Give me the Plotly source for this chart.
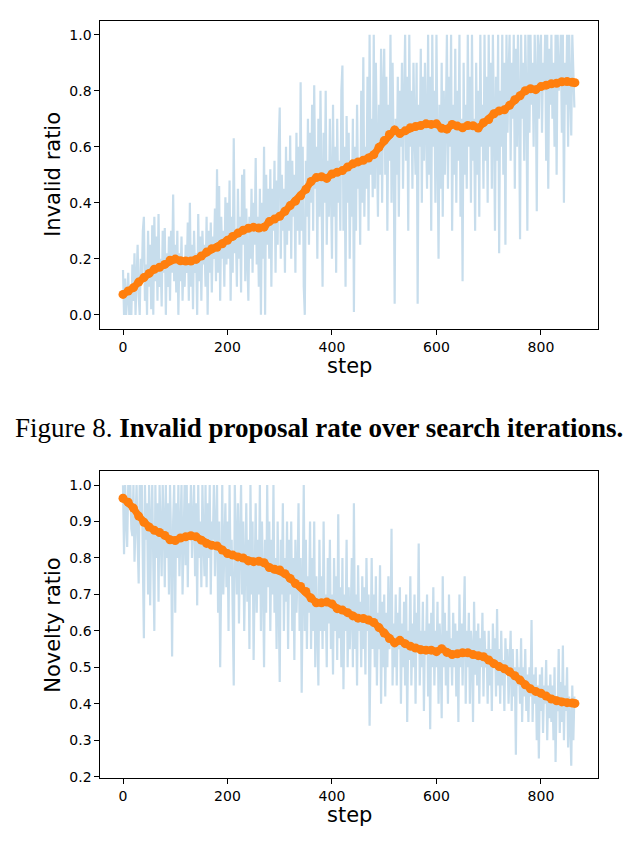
import plotly.graph_objects as go

# ---------------- data ----------------
# raw per-step values (sampled every 2 steps, 0..864)
invalid_raw = [
    0.16, 0.0, 0.13, 0.0, 0.06, 0.15, 0.0, 0.1, 0.0, 0.18,
    0.05, 0.22, 0.0, 0.14, 0.25, 0.07, 0.0, 0.2, 0.12, 0.3,
    0.35, 0.05, 0.18, 0.0, 0.3, 0.1, 0.25, 0.02, 0.32, 0.0,
    0.35, 0.12, 0.28, 0.05, 0.36, 0.1, 0.2, 0.03, 0.3, 0.15,
    0.31, 0.0, 0.22, 0.1, 0.28, 0.05, 0.3, 0.15, 0.43, 0.12,
    0.25, 0.08, 0.3, 0.0, 0.22, 0.12, 0.28, 0.05, 0.2, 0.1,
    0.25, 0.15, 0.33, 0.05, 0.4, 0.1, 0.25, 0.02, 0.3, 0.15,
    0.22, 0.0, 0.36, 0.12, 0.28, 0.05, 0.3, 0.18, 0.25, 0.1,
    0.35, 0.0, 0.3, 0.15, 0.33, 0.08, 0.28, 0.2, 0.38, 0.12,
    0.52, 0.15, 0.46, 0.05, 0.35, 0.2, 0.3, 0.1, 0.42, 0.18,
    0.4, 0.2, 0.48, 0.05, 0.35, 0.15, 0.63, 0.22, 0.3, 0.1,
    0.45, 0.2, 0.35, 0.08, 0.5, 0.25, 0.52, 0.12, 0.38, 0.2,
    0.05, 0.35, 0.2, 0.45, 0.15, 0.4, 0.25, 0.56, 0.18, 0.35,
    0.1, 0.45, 0.0, 0.4, 0.2, 0.6, 0.0, 0.5, 0.25, 0.45,
    0.2, 0.52, 0.1, 0.45, 0.3, 0.55, 0.15, 0.48, 0.25, 0.6,
    0.74, 0.2, 0.5, 0.3, 0.45, 0.15, 0.6, 0.25, 0.55, 0.3,
    0.64, 0.2, 0.55, 0.35, 0.5, 0.15, 0.65, 0.3, 0.6, 0.25,
    0.83, 0.3, 0.6, 0.1, 0.0, 0.55, 0.35, 0.7, 0.25, 0.65,
    0.4, 0.75, 0.3, 0.82, 0.45, 0.6, 0.2, 0.7, 0.35, 0.8,
    0.3, 0.1, 0.65, 0.4, 0.8, 0.25, 0.55, 0.35, 0.7, 0.45,
    0.2, 0.75, 0.35, 0.6, 0.15, 0.7, 0.4, 0.55, 0.3, 0.8,
    0.89, 0.3, 0.6, 0.1, 0.71, 0.4, 0.65, 0.2, 0.55, 0.35,
    0.7, 0.01, 0.6, 0.3, 0.75, 0.45, 0.55, 0.25, 0.8, 0.4,
    0.92, 0.35, 0.6, 0.45, 0.85, 0.3, 1.0, 0.5, 0.7, 0.42,
    1.0, 0.45, 0.9, 0.6, 0.35, 0.75, 0.5, 0.95, 0.4, 0.8,
    0.95, 0.5, 0.85, 0.3, 0.75, 0.55, 1.0, 0.4, 0.9, 0.6,
    0.04, 0.7, 0.5, 0.85, 0.35, 0.8, 0.6, 0.9, 0.45, 0.75,
    1.0, 0.55, 0.85, 0.3, 1.0, 0.6, 0.8, 0.45, 0.9, 0.65,
    0.5, 0.9, 0.04, 0.75, 0.6, 0.95, 0.4, 0.85, 0.55, 0.9,
    0.7, 0.45, 1.0, 0.5, 0.85, 0.3, 1.0, 0.6, 0.8, 0.4,
    1.0, 0.55, 0.2, 0.75, 0.45, 0.9, 0.35, 0.8, 0.5, 0.7,
    1.0, 0.45, 0.85, 0.6, 1.0, 0.3, 0.75, 0.5, 0.95, 0.4,
    0.8, 0.55, 1.0, 0.35, 0.7, 0.12, 0.9, 0.5, 0.75, 0.45,
    1.0, 0.6, 0.85, 0.4, 1.0, 0.55, 0.7, 0.3, 0.9, 0.5,
    0.8, 0.35, 1.0, 0.6, 0.75, 0.45, 1.0, 0.55, 0.85, 0.4,
    1.0, 0.6, 0.9, 0.45, 1.0, 0.7, 0.3, 0.85, 0.55, 1.0,
    0.22, 0.8, 0.6, 1.0, 0.5, 0.9, 0.25, 1.0, 0.65, 0.85,
    1.0, 0.55, 0.9, 0.7, 1.0, 0.45, 0.95, 0.6, 1.0, 0.75,
    0.27, 1.0, 0.7, 0.9, 0.55, 1.0, 0.8, 0.3, 1.0, 0.65,
    1.0, 0.75, 0.9, 0.6, 1.0, 0.85, 0.37, 1.0, 0.7, 0.95,
    1.0, 0.65, 0.9, 0.8, 1.0, 0.55, 1.0, 0.45, 0.95, 0.75,
    1.0, 0.7, 0.9, 0.6, 1.0, 0.5, 1.0, 0.8, 0.85, 1.0,
    0.65, 1.0, 0.4, 0.9, 0.75, 1.0, 0.6, 1.0, 0.8, 0.64,
    1.0, 0.9, 0.74,
]

novelty_raw = [
    1.0, 0.81, 1.0, 0.9, 0.83, 1.0, 0.95, 1.0, 0.88, 0.86,
    1.0, 0.79, 0.95, 1.0, 0.85, 0.73, 1.0, 0.9, 1.0, 0.82,
    0.58, 1.0, 0.85, 0.95, 0.7, 1.0, 0.67, 0.9, 1.0, 0.78,
    0.6, 1.0, 0.8, 0.95, 0.68, 1.0, 0.85, 0.75, 1.0, 0.9,
    0.72, 1.0, 0.8, 0.95, 0.7, 1.0, 0.85, 0.53, 0.9, 1.0,
    0.65, 0.95, 0.8, 1.0, 0.75, 0.9, 1.0, 0.7, 0.85, 1.0,
    0.78, 1.0, 0.72, 0.95, 0.85, 1.0, 0.8, 0.9, 1.0, 0.75,
    0.95, 0.67, 1.0, 0.8, 0.9, 0.72, 1.0, 0.85, 0.75, 1.0,
    0.72, 0.95, 0.8, 1.0, 0.7, 0.9, 0.85, 1.0, 0.75, 0.88,
    1.0, 0.65, 0.9, 0.5, 0.85, 1.0, 0.7, 0.8, 0.95, 0.72,
    0.9, 0.6, 1.0, 0.75, 0.85, 0.65, 0.45, 1.0, 0.8, 0.7,
    0.95, 0.62, 0.85, 1.0, 0.7, 0.9, 0.6, 0.8, 0.95, 0.68,
    0.85, 0.55, 1.0, 0.7, 0.9, 0.52, 0.8, 0.95, 0.65, 0.85,
    0.7, 1.0, 0.6, 0.9, 0.75, 0.5, 0.85, 0.65, 1.0, 0.72,
    0.9, 0.6, 0.85, 0.7, 1.0, 0.65, 0.8, 0.55, 0.9, 0.7,
    0.46, 0.85, 0.7, 0.95, 0.6, 0.8, 0.68, 0.9, 0.55, 0.85,
    0.7, 0.9, 0.6, 0.8, 0.52, 0.85, 0.65, 0.75, 0.95, 0.6,
    0.8, 0.43, 0.7, 1.0, 0.6, 0.85, 0.55, 0.75, 0.65, 0.9,
    0.55, 0.8, 0.6, 0.9, 0.5, 0.75, 0.62, 0.45, 0.85, 0.6,
    0.75, 0.55, 0.9, 0.6, 0.7, 0.5, 0.8, 0.62, 0.85, 0.55,
    0.7, 0.48, 0.8, 0.6, 0.75, 0.52, 0.92, 0.58, 0.72, 0.5,
    0.8, 0.44, 0.7, 0.6, 0.85, 0.5, 0.72, 0.55, 0.65, 0.8,
    0.5, 0.95, 0.55, 0.7, 0.45, 0.78, 0.6, 0.68, 0.5, 0.75,
    0.55, 0.72, 0.48, 0.8, 0.6, 0.7, 0.34, 0.65, 0.8, 0.55,
    0.7, 0.5, 0.75, 0.45, 0.65, 0.55, 0.78, 0.4, 0.68, 0.5,
    0.7, 0.42, 0.65, 0.5, 0.75, 0.55, 0.6, 0.88, 0.45, 0.62,
    0.5, 0.7, 0.45, 0.65, 0.55, 0.72, 0.4, 0.62, 0.5, 0.68,
    0.45, 0.7, 0.35, 0.6, 0.52, 0.75, 0.45, 0.62, 0.5, 0.7,
    0.4, 0.65, 0.55, 0.84, 0.45, 0.6, 0.5, 0.68, 0.38, 0.6,
    0.55, 0.7, 0.42, 0.62, 0.33, 0.65, 0.5, 0.72, 0.45, 0.6,
    0.5, 0.68, 0.4, 0.62, 0.55, 0.36, 0.75, 0.5, 0.65, 0.45,
    0.6, 0.4, 0.7, 0.5, 0.58, 0.45, 0.65, 0.5, 0.62, 0.42,
    0.6, 0.35, 0.7, 0.5, 0.62, 0.45, 0.58, 0.75, 0.4, 0.6,
    0.5, 0.65, 0.4, 0.6, 0.55, 0.35, 0.68, 0.48, 0.6, 0.45,
    0.62, 0.4, 0.58, 0.5, 0.65, 0.42, 0.6, 0.5, 0.55, 0.4,
    0.6, 0.45, 0.55, 0.38, 0.62, 0.5, 0.58, 0.42, 0.66, 0.45,
    0.55, 0.4, 0.6, 0.45, 0.52, 0.38, 0.58, 0.48, 0.55, 0.4,
    0.5, 0.6, 0.38, 0.55, 0.42, 0.5, 0.26, 0.55, 0.45, 0.5,
    0.4, 0.58, 0.35, 0.5, 0.42, 0.55, 0.38, 0.48, 0.35, 0.5,
    0.42, 0.63, 0.35, 0.48, 0.4, 0.5, 0.3, 0.45, 0.25, 0.48,
    0.38, 0.5, 0.32, 0.45, 0.4, 0.52, 0.3, 0.45, 0.36, 0.48,
    0.35, 0.45, 0.3, 0.5, 0.24, 0.42, 0.38, 0.55, 0.32, 0.46,
    0.35, 0.56, 0.3, 0.45, 0.38, 0.5, 0.28, 0.42, 0.35, 0.23,
    0.45, 0.3, 0.42,
]
raw_steps = list(range(0, 866, 2))

# smoothed curves (read every 10 steps)
smooth_steps = list(range(0, 861, 10)) + [865]
invalid_smooth = [
    0.073, 0.085, 0.097, 0.117, 0.133, 0.148, 0.163, 0.170, 0.180, 0.195,
    0.199, 0.193, 0.192, 0.192, 0.198, 0.210, 0.224, 0.236, 0.241, 0.254,
    0.266, 0.280, 0.292, 0.302, 0.309, 0.313, 0.310, 0.313, 0.333, 0.342,
    0.352, 0.370, 0.390, 0.406, 0.425, 0.448, 0.476, 0.490, 0.493, 0.487,
    0.503, 0.509, 0.515, 0.528, 0.539, 0.546, 0.552, 0.560, 0.572, 0.598,
    0.622, 0.644, 0.660, 0.647, 0.657, 0.668, 0.672, 0.676, 0.682, 0.680,
    0.682, 0.666, 0.663, 0.680, 0.674, 0.668, 0.676, 0.675, 0.667, 0.686,
    0.697, 0.718, 0.728, 0.732, 0.748, 0.768, 0.782, 0.800, 0.807, 0.804,
    0.815, 0.820, 0.825, 0.827, 0.832, 0.833, 0.830, 0.829,
]
novelty_smooth = [
    0.964, 0.953, 0.937, 0.915, 0.898, 0.885, 0.876, 0.870, 0.862, 0.850,
    0.848, 0.855, 0.858, 0.861, 0.858, 0.849, 0.840, 0.835, 0.833, 0.822,
    0.812, 0.808, 0.803, 0.800, 0.792, 0.790, 0.791, 0.787, 0.774, 0.769,
    0.767, 0.757, 0.744, 0.730, 0.722, 0.708, 0.690, 0.677, 0.677, 0.679,
    0.674, 0.661, 0.657, 0.650, 0.641, 0.635, 0.634, 0.630, 0.623, 0.609,
    0.594, 0.579, 0.567, 0.574, 0.565, 0.558, 0.553, 0.548, 0.547, 0.547,
    0.543, 0.551, 0.541, 0.535, 0.537, 0.540, 0.540, 0.535, 0.532, 0.529,
    0.520, 0.510, 0.502, 0.496, 0.488, 0.477, 0.465, 0.452, 0.441, 0.434,
    0.429, 0.421, 0.413, 0.408, 0.405, 0.403, 0.402, 0.401,
]

invalid_ticks = [0.0, 0.2, 0.4, 0.6, 0.8, 1.0]
novelty_ticks = [0.2, 0.3, 0.4, 0.5, 0.6, 0.7, 0.8, 0.9, 1.0]
step_ticks = [0, 200, 400, 600, 800]

# ---------------- figure ----------------
W, H = 637, 848
BLUE = "rgb(199,221,236)"
ORANGE = "#ff7f0e"
TICKFONT = dict(family="DejaVu Sans", size=14, color="black")
LABELFONT = dict(family="DejaVu Sans", size=21, color="black")

fig = go.Figure()
fig.add_trace(go.Scatter(x=raw_steps, y=invalid_raw, mode="lines",
                         line=dict(color=BLUE, width=2.2), xaxis="x", yaxis="y",
                         showlegend=False, hoverinfo="skip"))
fig.add_trace(go.Scatter(x=smooth_steps, y=invalid_smooth, mode="lines+markers",
                         line=dict(color=ORANGE, width=7),
                         marker=dict(color=ORANGE, size=9),
                         xaxis="x", yaxis="y", showlegend=False))
fig.add_trace(go.Scatter(x=raw_steps, y=novelty_raw, mode="lines",
                         line=dict(color=BLUE, width=2.2), xaxis="x2", yaxis="y2",
                         showlegend=False, hoverinfo="skip"))
fig.add_trace(go.Scatter(x=smooth_steps, y=novelty_smooth, mode="lines+markers",
                         line=dict(color=ORANGE, width=7),
                         marker=dict(color=ORANGE, size=9),
                         xaxis="x2", yaxis="y2", showlegend=False))

def px_x(p):
    return p / W

def px_y(p):
    return 1 - p / H

x_dom = [px_x(100.4), px_x(597.5)]
top_dom = [px_y(331.6), px_y(20.9)]
bot_dom = [px_y(784.4), px_y(475.0)]

common_x = dict(range=[-43.25, 908.25], tickvals=step_ticks, ticks="outside",
                ticklen=5, tickwidth=1, tickcolor="black", showline=True,
                linecolor="black", linewidth=1, mirror=True, showgrid=False,
                zeroline=False, tickfont=TICKFONT)
common_y = dict(ticks="outside", ticklen=5, tickwidth=1, tickcolor="black",
                showline=True, linecolor="black", linewidth=1, mirror=True,
                showgrid=False, zeroline=False, tickfont=TICKFONT,
                tickformat=".1f")

fig.update_layout(
    width=W, height=H,
    margin=dict(l=0, r=0, t=0, b=0),
    paper_bgcolor="white", plot_bgcolor="white",
    xaxis=dict(domain=x_dom, anchor="y", **common_x),
    yaxis=dict(domain=top_dom, anchor="x", range=[-0.05, 1.05],
               tickvals=invalid_ticks, **common_y),
    xaxis2=dict(domain=x_dom, anchor="y2", **common_x),
    yaxis2=dict(domain=bot_dom, anchor="x2", range=[0.1965, 1.0385],
                tickvals=novelty_ticks, **common_y),
    annotations=[
        dict(text="Invalid ratio", x=px_x(53), y=px_y(176.3), xref="paper",
             yref="paper", textangle=-90, showarrow=False, font=LABELFONT,
             xanchor="center", yanchor="middle"),
        dict(text="step", x=px_x(349), y=px_y(369), xref="paper", yref="paper",
             showarrow=False, font=LABELFONT, xanchor="center", yanchor="middle"),
        dict(text="Novelty ratio", x=px_x(53), y=px_y(630), xref="paper",
             yref="paper", textangle=-90, showarrow=False, font=LABELFONT,
             xanchor="center", yanchor="middle"),
        dict(text="step", x=px_x(349), y=px_y(822), xref="paper", yref="paper",
             showarrow=False, font=LABELFONT, xanchor="center", yanchor="middle"),
        dict(text="Figure 8. <b>Invalid proposal rate over search iterations.</b>",
             x=px_x(319), y=px_y(432), xref="paper", yref="paper",
             showarrow=False, xanchor="center", yanchor="middle",
             font=dict(family="Liberation Serif", size=27, color="black")),
    ],
)

fig.write_html("out.html")
